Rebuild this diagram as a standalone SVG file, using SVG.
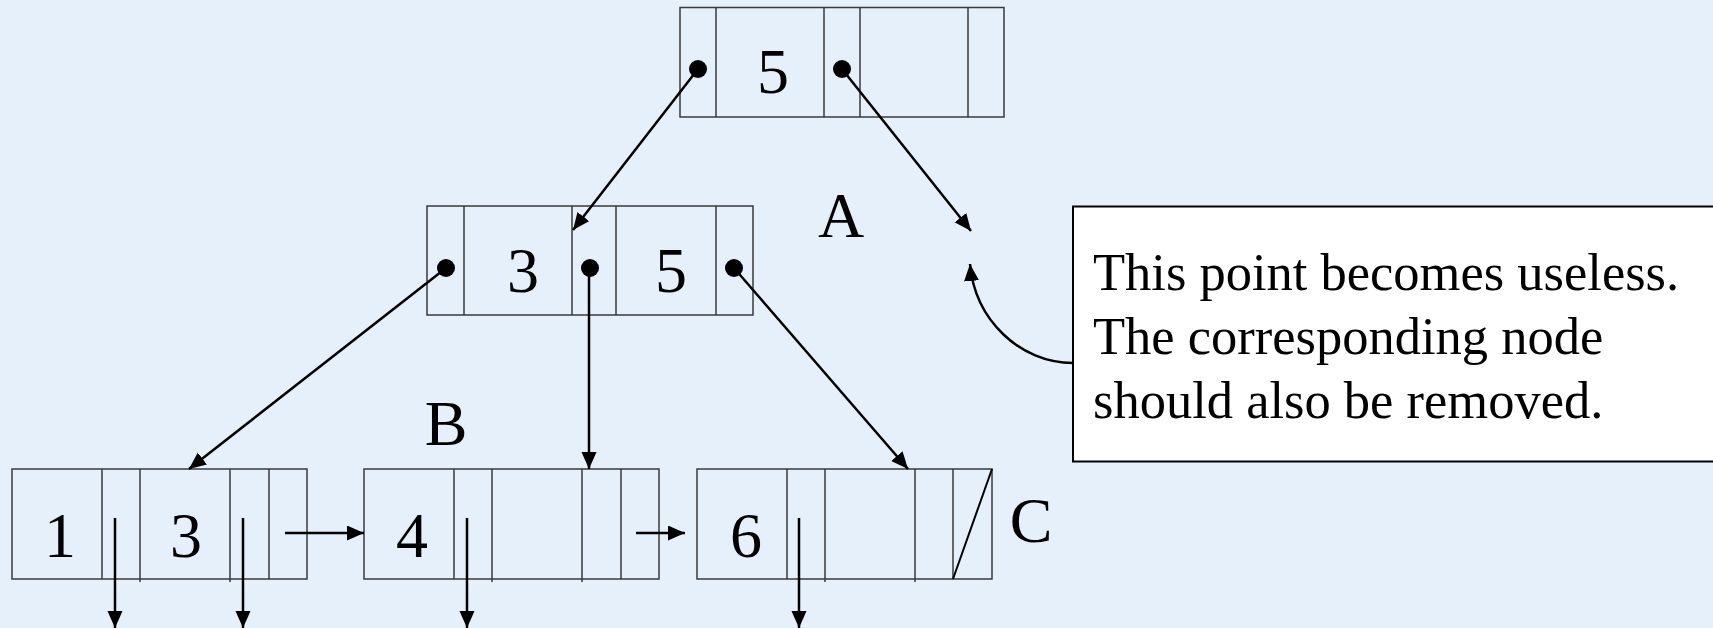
<svg xmlns="http://www.w3.org/2000/svg" width="1713" height="628" viewBox="0 0 1713 628">
<style>
.cell{fill:none;stroke:#3a3a3a;stroke-width:1.5}
.num{font-family:"Liberation Serif","Times New Roman",serif;font-size:64px;fill:#000;text-anchor:middle}
.lbl{font-family:"Liberation Serif","Times New Roman",serif;font-size:64px;fill:#000;text-anchor:middle}
.note{font-family:"Liberation Serif","Times New Roman",serif;font-size:52.5px;fill:#000}
.arr{fill:none;stroke:#000;stroke-width:2.5;marker-end:url(#ah)}
.dot{fill:#000}
</style>
<defs>
<marker id="ah" markerUnits="userSpaceOnUse" markerWidth="20" markerHeight="18" refX="17" refY="7.5" orient="auto">
<path d="M0,0 L17,7.5 L0,15 z" fill="#000"/>
</marker>
</defs>
<rect width="1713" height="628" fill="#E6F0FA"/>

<g id="root">
<rect class="cell" x="680" y="7.5" width="324" height="109.5"/>
<path class="cell" d="M716,7.5V117 M824,7.5V117 M860,7.5V117 M968,7.5V117"/>
<text class="num" x="773" y="93">5</text>
<circle class="dot" cx="698" cy="69" r="9"/>
<circle class="dot" cx="842" cy="69" r="9"/>
</g>

<g id="nodeA">
<rect class="cell" x="427" y="206" width="326" height="109"/>
<path class="cell" d="M464,206V315 M572,206V315 M616,206V315 M716,206V315"/>
<text class="num" x="523" y="292">3</text>
<text class="num" x="671" y="292">5</text>
<circle class="dot" cx="446" cy="268" r="9"/>
<circle class="dot" cx="590" cy="268" r="9"/>
<circle class="dot" cx="734" cy="268" r="9"/>
</g>
<text id="labelA" class="lbl" x="841" y="237">A</text>

<g id="leaf1">
<rect class="cell" x="12" y="469" width="295" height="110"/>
<path class="cell" d="M102,469V579 M140,469V582 M230,469V582 M269,469V579"/>
<text class="num" x="60" y="557">1</text>
<text class="num" x="186" y="557">3</text>
</g>

<g id="leaf2">
<rect class="cell" x="364" y="469" width="295" height="110"/>
<path class="cell" d="M454,469V579 M492,469V582 M582,469V582 M621,469V579"/>
<text class="num" x="412" y="557">4</text>
</g>
<text id="labelB" class="lbl" x="446" y="445">B</text>

<g id="leaf3">
<rect class="cell" x="697" y="469" width="295" height="110"/>
<path class="cell" d="M787,469V579 M825,469V582 M915,469V582 M953,469V579"/>
<path d="M953,579 L992,469" stroke="#000" stroke-width="2" fill="none"/>
<text class="num" x="746" y="557">6</text>
</g>
<text id="labelC" class="lbl" x="1031" y="542">C</text>

<g id="note">
<rect x="1073" y="206.5" width="660" height="255" fill="#fff" stroke="#000" stroke-width="2"/>
<text class="note" x="1093" y="290">This point becomes useless.</text>
<text class="note" x="1093" y="354">The corresponding node</text>
<text class="note" x="1093" y="418">should also be removed.</text>
</g>

<g id="connectors">
<line class="arr" x1="698" y1="69" x2="573" y2="230"/>
<line class="arr" x1="842" y1="69" x2="971" y2="231"/>
<line class="arr" x1="446" y1="268" x2="189" y2="469"/>
<line class="arr" x1="589" y1="268" x2="589" y2="469"/>
<line class="arr" x1="734" y1="268" x2="908" y2="469"/>
<path class="arr" d="M1073,363 C1020,363 975,320 970,264"/>
<line class="arr" x1="285" y1="533" x2="364" y2="533"/>
<line class="arr" x1="636" y1="533" x2="685" y2="533"/>
<line class="arr" x1="115" y1="518" x2="115" y2="628"/>
<line class="arr" x1="243" y1="518" x2="243" y2="628"/>
<line class="arr" x1="467" y1="518" x2="467" y2="628"/>
<line class="arr" x1="799" y1="518" x2="799" y2="628"/>
</g>
</svg>
